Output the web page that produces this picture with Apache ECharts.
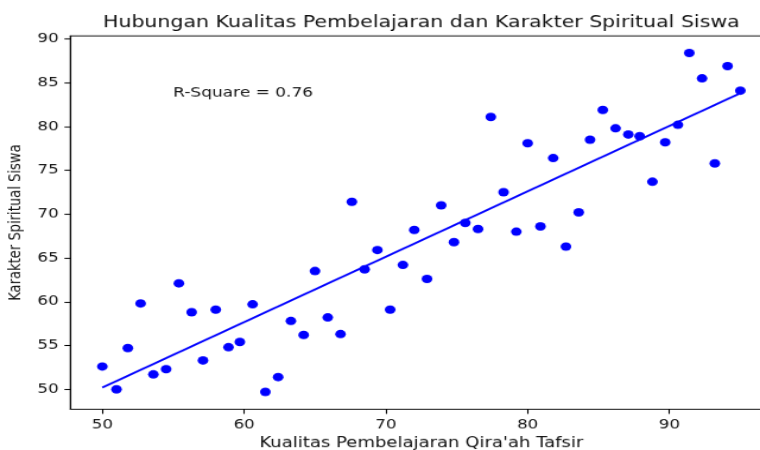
<!DOCTYPE html>
<html>
<head>
<meta charset="utf-8">
<title>Hubungan Kualitas Pembelajaran dan Karakter Spiritual Siswa</title>
<script src="https://cdn.jsdelivr.net/npm/echarts@6/dist/echarts.min.js"></script>
<style>
    html, body { margin: 0; padding: 0; background: #fff; overflow: hidden; }
    /* the reference is a 640x480 figure stretched to 760x450, its right edge cut off */
    #chart { width: 660px; height: 480px; transform: scale(1.1875, 0.9375); transform-origin: 0 0; }
</style>
</head>
<body>
<div id="chart"></div>
<script>
    // Kualitas Pembelajaran Qira'ah Tafsir (x) vs Karakter Spiritual Siswa (y)
    let kualitas = [
        50.0, 51.0, 51.8, 52.7, 53.6, 54.5, 55.4, 56.3, 57.1, 58.0,
        58.9, 59.7, 60.6, 61.5, 62.4, 63.3, 64.2, 65.0, 65.9, 66.8,
        67.6, 68.5, 69.4, 70.3, 71.2, 72.0, 72.9, 73.9, 74.8, 75.6,
        76.5, 77.4, 78.3, 79.2, 80.0, 80.9, 81.8, 82.7, 83.6, 84.4,
        85.3, 86.2, 87.1, 87.9, 88.8, 89.7, 90.6, 91.4, 92.3, 93.2,
        94.1, 95.0
    ];
    let karakter = [
        52.6, 50.0, 54.7, 59.8, 51.7, 52.3, 62.1, 58.8, 53.3, 59.1,
        54.8, 55.4, 59.7, 49.7, 51.4, 57.8, 56.2, 63.5, 58.2, 56.3,
        71.4, 63.7, 65.9, 59.1, 64.2, 68.2, 62.6, 71.0, 66.8, 69.0,
        68.3, 81.1, 72.5, 68.0, 78.1, 68.6, 76.4, 66.3, 70.2, 78.5,
        81.9, 79.8, 79.1, 78.9, 73.7, 78.2, 80.2, 88.4, 85.5, 75.8,
        86.9, 84.1
    ];

    // regression line end points
    let fitX = [50, 95];
    let fitY = [50.2, 83.8];

    let xTicks = [50, 60, 70, 80, 90];
    let yTicks = [50, 55, 60, 65, 70, 75, 80, 85, 90];

    let rSquarePos = [55, 83.8];
    let rSquareText = 'R-Square = 0.76';

    let points = kualitas.map((x, i) => [x, karakter[i]]);
    let fitLine = fitX.map((x, i) => [x, fitY[i]]);

    const font = 'DejaVu Sans';
    const ink = '#111';

    const myChart = echarts.init(document.getElementById('chart'));

    let options = {
        animation: false,
        title: {
            text: 'Hubungan Kualitas Pembelajaran dan Karakter Spiritual Siswa',
            left: 354.8,
            textAlign: 'center',
            top: 16.5,
            padding: 0,
            textStyle: {fontFamily: font, fontSize: 17.3, fontWeight: 'normal', color: ink}
        },
        grid: {
            left: 59.3,
            right: 9.7,
            top: 38.2,
            bottom: 43.5,
            outerBoundsMode: 'none',
            show: true,
            borderColor: '#000',
            borderWidth: 1.1
        },
        xAxis: {
            type: 'value',
            min: 47.75,
            max: 97.25,
            name: "Kualitas Pembelajaran Qira'ah Tafsir",
            nameLocation: 'middle',
            nameGap: 21,
            nameTextStyle: {fontFamily: font, fontSize: 15.2, color: ink},
            splitLine: {show: false},
            axisLine: {lineStyle: {color: '#000', width: 1.1}},
            axisTick: {length: 5, lineStyle: {color: '#000', width: 1.1}, customValues: xTicks},
            axisLabel: {margin: 10, fontFamily: font, fontSize: 14, color: ink, customValues: xTicks}
        },
        yAxis: {
            type: 'value',
            min: 47.72,
            max: 90.36,
            name: 'Karakter Spiritual Siswa',
            nameLocation: 'middle',
            nameGap: 38.3,
            nameTextStyle: {fontFamily: font, fontSize: 14, color: ink},
            splitLine: {show: false},
            axisLine: {lineStyle: {color: '#000', width: 1.1}},
            axisTick: {length: 5, lineStyle: {color: '#000', width: 1.1}, customValues: yTicks},
            axisLabel: {margin: 10, fontFamily: font, fontSize: 14, color: ink, customValues: yTicks}
        },
        series: [
            {
                type: 'line',
                data: fitLine,
                symbol: 'none',
                z: 2,
                lineStyle: {color: '#0000ff', width: 2}
            },
            {
                type: 'scatter',
                data: points,
                symbolSize: 9,
                z: 3,
                itemStyle: {color: '#0000ff', opacity: 1},
                markPoint: {
                    symbol: 'circle',
                    symbolSize: 0,
                    data: [{coord: rSquarePos}],
                    label: {
                        show: true,
                        position: 'right',
                        distance: 0,
                        formatter: rSquareText,
                        fontFamily: font,
                        fontSize: 14.3,
                        color: ink
                    }
                }
            }
        ]
    };
    myChart.setOption(options, true);
</script>
</body>
</html>
